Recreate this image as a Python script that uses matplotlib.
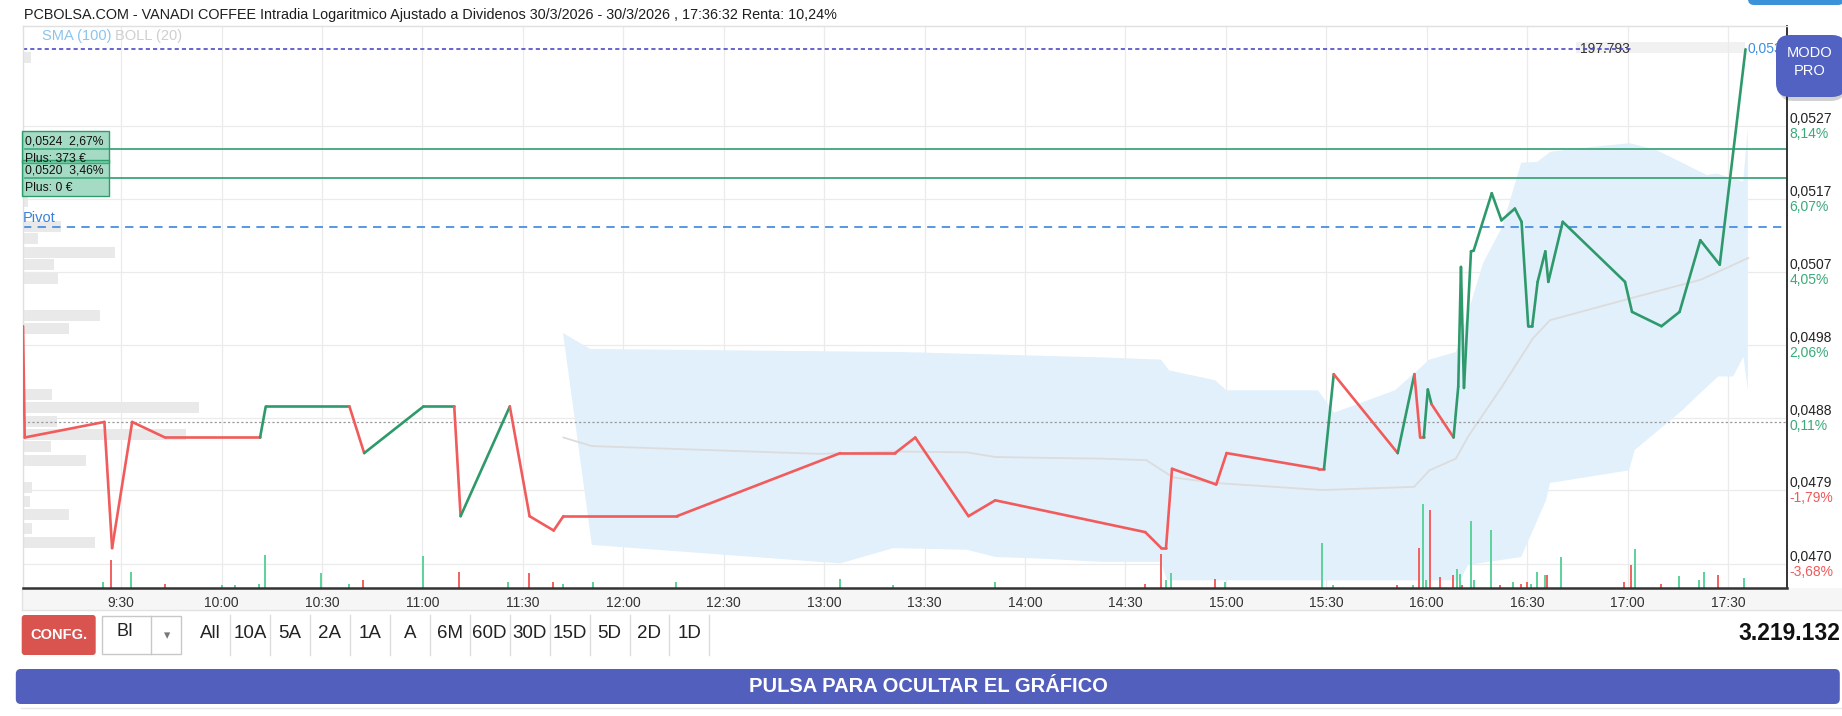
import numpy as np
import matplotlib
matplotlib.use('Agg')
import matplotlib.pyplot as plt
from matplotlib.collections import LineCollection
from matplotlib.patches import Rectangle, FancyBboxPatch
from matplotlib.transforms import blended_transform_factory
from matplotlib.ticker import NullLocator

plt.rcParams['font.family'] = ['Liberation Sans', 'DejaVu Sans']
plt.rcParams['lines.scale_dashes'] = False

# --- datos ---
ref_price = 0.04875      # cierre anterior
last_price = 0.0538
pivot_price = 0.05133
alert_prices = [0.0524, 0.0520]
alert_labels = [('0,0524  2,67%', 'Plus: 373 €'), ('0,0520  3,46%', 'Plus: 0 €')]

tick_prices = ['0,0527', '0,0517', '0,0507', '0,0498', '0,0488', '0,0479', '0,0470']
tick_pcts = [8.14, 6.07, 4.05, 2.06, 0.11, -1.79, -3.68]
time_labels = ['9:30', '10:00', '10:30', '11:00', '11:30', '12:00', '12:30', '13:00',
               '13:30', '14:00', '14:30', '15:00', '15:30', '16:00', '16:30', '17:00', '17:30']

trade_times = ['09:00:42', '09:01:12', '09:25:00', '09:27:18', '09:33:18', '09:43:06', '10:11:30',
               '10:13:12', '10:38:12', '10:42:36', '11:00:18', '11:09:30', '11:11:24', '11:26:06',
               '11:32:00', '11:39:12', '11:42:06', '12:16:00', '13:04:48', '13:21:12', '13:27:12',
               '13:43:06', '13:51:06', '14:35:54', '14:40:42', '14:42:06', '14:43:54', '14:57:06',
               '15:00:12', '15:27:36', '15:29:18', '15:32:12', '15:51:18', '15:56:18', '15:58:00',
               '15:59:06', '16:00:18', '16:01:24', '16:08:00', '16:09:24', '16:10:12', '16:11:06',
               '16:13:12', '16:14:00', '16:19:24', '16:22:18', '16:26:18', '16:28:18', '16:30:18',
               '16:31:30', '16:33:06', '16:35:24', '16:36:18', '16:40:36', '16:59:12', '17:01:18',
               '17:10:06', '17:15:30', '17:21:42', '17:27:30', '17:35:12']
trade_prices = [0.0500, 0.04855, 0.04875, 0.04715, 0.04875, 0.04855, 0.04855, 0.04895, 0.04895,
                0.04835, 0.04895, 0.04895, 0.04755, 0.04895, 0.04755, 0.04737, 0.04755, 0.04755,
                0.04835, 0.04835, 0.04855, 0.04755, 0.04775, 0.04735, 0.04715, 0.04715, 0.04815,
                0.04795, 0.04835, 0.04815, 0.04815, 0.04937, 0.04835, 0.04937, 0.04855, 0.04855,
                0.04917, 0.04898, 0.04855, 0.04921, 0.05079, 0.04919, 0.0510, 0.05101, 0.05179,
                0.05142, 0.05158, 0.0514, 0.0500, 0.0500, 0.05059, 0.0510, 0.05059, 0.0514,
                0.05059, 0.05019, 0.0500, 0.05019, 0.05115, 0.05082, 0.0538]

boll_up_times = ['11:42:00', '11:50:06', '13:22:42', '14:22:24', '14:40:36', '14:43:00', '14:56:48',
                 '15:00:06', '15:27:30', '15:32:18', '15:50:30', '16:00:48', '16:08:42', '16:12:18',
                 '16:16:48', '16:22:30', '16:28:12', '16:33:00', '16:36:54', '16:45:30', '17:00:30',
                 '17:08:24', '17:23:36', '17:26:36', '17:34:30', '17:35:54']
boll_up = [0.04991, 0.04970, 0.04966, 0.04959, 0.04956, 0.04942, 0.04929, 0.04916, 0.04916,
           0.04887, 0.04916, 0.04956, 0.04966, 0.05018, 0.05084, 0.05133, 0.05221, 0.05222,
           0.05236, 0.05241, 0.05248, 0.05239, 0.05204, 0.05206, 0.05195, 0.05269]
boll_lo_times = ['11:42:00', '11:50:36', '13:04:48', '13:20:36', '13:42:36', '13:51:06', '14:04:30',
                 '14:22:24', '14:40:36', '14:42:24', '16:09:54', '16:12:18', '16:28:12', '16:35:36',
                 '16:36:48', '17:00:24', '17:02:06', '17:16:18', '17:21:36', '17:27:00', '17:31:30',
                 '17:34:36', '17:35:54']
boll_lo = [0.04991, 0.04719, 0.04696, 0.04715, 0.04713, 0.04704, 0.04702, 0.04698, 0.04698,
           0.04675, 0.04675, 0.04694, 0.04704, 0.04775, 0.04797, 0.04813, 0.04839, 0.0489,
           0.04912, 0.04934, 0.04934, 0.0496, 0.04916]

sma_times = ['11:42:06', '11:50:36', '12:58:48', '13:21:12', '13:42:36', '13:51:06', '14:04:30',
             '14:22:24', '14:36:12', '14:44:12', '14:56:48', '15:28:42', '15:56:12', '16:00:48',
             '16:08:42', '16:12:18', '16:22:30', '16:31:42', '16:36:48', '17:02:30', '17:21:54',
             '17:36:00']
sma_vals = [0.04855, 0.04844, 0.04834, 0.04837, 0.04836, 0.0483, 0.04829, 0.04828, 0.04826,
            0.04804, 0.04797, 0.04788, 0.04792, 0.04813, 0.04828, 0.04856, 0.04921, 0.04984,
            0.05008, 0.05039, 0.05062, 0.05091]

vol_times = ['09:00:48', '09:24:42', '09:27:00', '09:33:00', '09:43:00', '10:00:00', '10:04:06',
             '10:11:06', '10:13:00', '10:29:42', '10:38:00', '10:42:06', '11:00:06', '11:10:54',
             '11:25:42', '11:31:42', '11:38:54', '11:42:00', '11:50:48', '12:15:48', '13:04:48',
             '13:20:42', '13:51:06', '14:35:54', '14:40:42', '14:42:06', '14:43:42', '14:56:48',
             '14:59:48', '15:28:48', '15:32:00', '15:51:06', '15:56:00', '15:57:36', '15:58:54',
             '15:59:54', '16:01:06', '16:04:00', '16:07:42', '16:09:06', '16:10:00', '16:10:30',
             '16:13:06', '16:14:00', '16:19:06', '16:22:00', '16:25:48', '16:28:00', '16:30:00',
             '16:31:12', '16:33:00', '16:35:12', '16:36:00', '16:40:06', '16:59:00', '17:00:54',
             '17:02:06', '17:10:06', '17:15:12', '17:21:12', '17:22:48', '17:26:54', '17:34:42']
vol_k = [6, 6, 28, 16, 4, 3, 3, 4, 33, 15, 4, 8, 32, 16, 6, 15, 6, 3.5, 6, 6, 9, 3, 6, 4, 34, 8,
         15, 9, 6, 45, 2.5, 2.5, 2.5, 40, 84, 8, 78, 11, 13, 19, 14, 2.5, 67, 8, 58, 2.5, 6, 4, 6,
         4, 16, 13, 13, 31, 6, 23, 39, 4, 12, 8, 16, 13, 10]
vol_side = 'sbsbsbbbbb' 'bsbsbssbbb' 'bbbssbbsbb' 'bsbsbbsssb' 'bsbbbsbssb' 'bbsbssbsbb' 'bsb'

# perfil de volumen por precio
profile_prices = [0.05368, 0.05168, 0.05134, 0.05117, 0.05099, 0.05082, 0.05064, 0.05014, 0.04997,
                  0.0491, 0.04894, 0.04876, 0.04859, 0.04843, 0.04825, 0.04791, 0.04774, 0.04757,
                  0.0474, 0.04722]
profile_vol = [8, 5, 38, 15, 92, 31, 35, 77, 46, 29, 176, 34, 163, 28, 63, 9, 7, 46, 9, 72]

periods = ['All', '10A', '5A', '2A', '1A', 'A', '6M', '60D', '30D', '15D', '5D', '2D', '1D']

title = ('PCBOLSA.COM - VANADI COFFEE Intradia Logaritmico Ajustado a Dividenos '
         '30/3/2026 - 30/3/2026 , 17:36:32 Renta: 10,24%')


def to_min(ts):
    h, m, s = (int(v) for v in ts.split(':'))
    return h * 60 + m + s / 60.0


GREEN = '#2e9a6c'
RED = '#f15b5b'
VGREEN = '#5fd39d'
VRED = '#f06464'

W, H = 1842, 716
fig = plt.figure(figsize=(W / 100, H / 100), dpi=100)

# capa de fondo en pixeles
bg = fig.add_axes([0, 0, 1, 1], zorder=-5)
bg.set_xlim(0, W)
bg.set_ylim(H, 0)
bg.axis('off')

L, R, T, B = 22.7, 1786.7, 26.0, 587.7
ax = fig.add_axes([L / W, 1 - B / H, (R - L) / W, (B - T) / H])
ax.set_facecolor('none')
ax.set_yscale('log')
ax.set_autoscale_on(False)

# bandas de bollinger y media
bx = [to_min(t) for t in boll_up_times] + [to_min(t) for t in boll_lo_times][::-1]
by = boll_up + boll_lo[::-1]
ax.fill(bx, by, color='#e1f0fb', lw=0, zorder=1.2)
ax.plot([to_min(t) for t in sma_times], sma_vals, color='#dcdcdc', lw=1.3, zorder=1.5)

# perfil de volumen
ptrans = blended_transform_factory(ax.transAxes, ax.transData)
pp = np.array(profile_prices)
half = 1.00145
ax.barh(pp / half, np.array(profile_vol) / (R - L), height=pp * half - pp / half, left=0,
        align='edge', color='#e9e9e9', lw=0, transform=ptrans, zorder=1.1)

# volumen
vtrans = blended_transform_factory(ax.transData, ax.transAxes)
vcols = [VGREEN if s == 'b' else VRED for s in vol_side]
ax.bar([to_min(t) for t in vol_times], np.array(vol_k) / (B - T), width=0.6, bottom=0,
       color=vcols, lw=0, transform=vtrans, zorder=2.2)

# lineas horizontales
ax.axhline(ref_price, color='#9a9a9a', lw=0.9, dashes=(1.6, 1.6), zorder=2)
ax.axhline(pivot_price, color='#4a8fe0', lw=1.3, dashes=(6, 4.5), zorder=2)
for p in alert_prices:
    ax.axhline(p, color='#3fa57b', lw=1.3, zorder=2)
ax.axhline(last_price, xmax=(1632 - L) / (R - L), color='#4b4bc6', lw=1.2, dashes=(3, 2.2), zorder=2.5)

# precio
tx = np.array([to_min(t) for t in trade_times])
ty = np.array(trade_prices)
segs = [[(tx[i], ty[i]), (tx[i + 1], ty[i + 1])] for i in range(len(tx) - 1)]
cols = [GREEN if ty[i + 1] > ref_price else RED for i in range(len(tx) - 1)]
ax.add_collection(LineCollection(segs, colors=cols, linewidths=1.9, capstyle='round',
                                 joinstyle='round', zorder=3))

ax.set_xlim(540.6, 1067.5)
ax.set_ylim(0.046659, 0.054132)

tick_vals = [ref_price * (1 + p / 100) for p in tick_pcts]
ax.set_xticks([to_min(t + ':00') for t in time_labels])
ax.set_xticklabels(time_labels)
ax.set_yticks(tick_vals)
ax.yaxis.set_minor_locator(NullLocator())
ax.xaxis.set_minor_locator(NullLocator())
ax.set_yticklabels([])
ax.tick_params(axis='y', length=0)
ax.tick_params(axis='x', length=0, pad=6, labelsize=10, labelcolor='#333333')
ax.grid(True, color='#ebebeb', lw=0.9)
ax.set_axisbelow(True)
for side in ('top', 'left'):
    ax.spines[side].set_color('#e0e0e0')
    ax.spines[side].set_linewidth(1)
ax.spines['right'].set_color('#333333')
ax.spines['right'].set_linewidth(1.4)
ax.spines['bottom'].set_color('#333333')
ax.spines['bottom'].set_linewidth(1.8)

for v, lab, pct in zip(tick_vals, tick_prices, tick_pcts):
    ax.annotate(lab, xy=(1, v), xycoords=('axes fraction', 'data'), xytext=(3, 0),
                textcoords='offset pixels', ha='left', va='bottom', fontsize=10,
                color='#222222', annotation_clip=False)
    ax.annotate(('%.2f%%' % pct).replace('.', ','), xy=(1, v), xycoords=('axes fraction', 'data'),
                xytext=(3, -1), textcoords='offset pixels', ha='left', va='top', fontsize=10,
                color='#3aaa7a' if pct > 0 else '#f05a5a', annotation_clip=False)

ax.annotate('Pivot', xy=(0, pivot_price), xycoords=('axes fraction', 'data'), xytext=(0, 2),
            textcoords='offset pixels', ha='left', va='bottom', fontsize=10.5, color='#3a80d8')
ax.annotate('197.793', xy=((1580 - L) / (R - L), last_price), xycoords=('axes fraction', 'data'),
            ha='left', va='center', fontsize=10, color='#333333', zorder=2.4)
ax.annotate('0,0537', xy=((1747 - L) / (R - L), last_price), xycoords=('axes fraction', 'data'),
            ha='left', va='center', fontsize=10, color='#3d8fe0', zorder=4, annotation_clip=False)

# fondo: franja de horas y banda 197.793
bg.add_patch(Rectangle((21.7, B), W - 21.7, 610 - B, color='#f6f6f6', lw=0))
bg.plot([21.7, W], [610, 610], color='#e2e2e2', lw=1)
bg.plot([21.7, 21.7], [B, 610], color='#e2e2e2', lw=1)
bg.add_patch(Rectangle((1576, 41.7), 169, 11.6, color='#f1f1f1', lw=0))

# capa superior
fg = fig.add_axes([0, 0, 1, 1], zorder=10)
fg.set_xlim(0, W)
fg.set_ylim(H, 0)
fg.axis('off')

fg.text(23.5, 15.5, title, ha='left', va='center', fontsize=10.4, color='#1e1e1e')
fg.text(42, 36, 'SMA (100)', ha='left', va='center', fontsize=10.5, color='#8cc4ee')
fg.text(115, 36, 'BOLL (20)', ha='left', va='center', fontsize=10.5, color='#cfcfcf')

# cajas de alertas
for (y0, y1), (l1, l2) in zip([(131, 163), (160, 195.7)], alert_labels):
    fg.add_patch(Rectangle((21.7, y0), 87.6, y1 - y0, fc='#4cb98a', alpha=0.5, ec='none'))
    fg.add_patch(Rectangle((21.7, y0), 87.6, y1 - y0, fc='none', ec='#2e9d6e', lw=1))
    fg.text(25, y0 + 10.5, l1, ha='left', va='center', fontsize=8.7, color='#111111')
    fg.text(25, y0 + 28, l2, ha='left', va='center', fontsize=8.7, color='#111111')

# boton MODO PRO
fg.add_patch(FancyBboxPatch((1779, 39), 66, 62, boxstyle='round,pad=0,rounding_size=14',
                            fc='#000000', alpha=0.18, ec='none'))
fg.add_patch(FancyBboxPatch((1776, 35), 70, 62, boxstyle='round,pad=0,rounding_size=14',
                            fc='#5262c2', ec='none'))
fg.text(1810, 53, 'MODO', ha='center', va='center', fontsize=10.5, color='white')
fg.text(1810, 71, 'PRO', ha='center', va='center', fontsize=10.5, color='white')
fg.add_patch(FancyBboxPatch((1748, -12), 96, 17, boxstyle='round,pad=0,rounding_size=6',
                            fc='#3a93d8', ec='none'))

# barra de botones
fg.add_patch(FancyBboxPatch((21.7, 615), 74, 40, boxstyle='round,pad=0,rounding_size=3',
                            fc='#d9534f', ec='none'))
fg.text(58.7, 635, 'CONFG.', ha='center', va='center', fontsize=10.5, color='white', weight='bold')
fg.add_patch(Rectangle((101.5, 616), 79.3, 38, fc='white', ec='#c8c8c8', lw=1))
fg.plot([151.4, 151.4], [616, 654], color='#c8c8c8', lw=1)
fg.text(125, 632, 'BI', ha='center', va='center', fontsize=13, color='#222222')
fg.text(167, 636, '▾', ha='center', va='center', fontsize=9, color='#777777',
        family=['DejaVu Sans'])
for i, lab in enumerate(periods):
    cx = 210 + i * 39.95
    fg.text(cx, 634, lab, ha='center', va='center', fontsize=13.5, color='#222222')
    fg.plot([cx + 20, cx + 20], [615, 655], color='#dcdcdc', lw=1)
fg.text(1840, 634, '3.219.132', ha='right', va='center', fontsize=16.5, color='#111111',
        weight='bold')

fg.add_patch(FancyBboxPatch((15.8, 669), 1824, 35, boxstyle='round,pad=0,rounding_size=5',
                            fc='#535fbd', ec='none'))
fg.text(928, 686.5, 'PULSA PARA OCULTAR EL GRÁFICO', ha='center', va='center', fontsize=14.5,
        color='white', weight='bold')
fg.plot([21, W], [707.5, 707.5], color='#e6e6e6', lw=1)

fig.savefig('out.png', dpi=100)
